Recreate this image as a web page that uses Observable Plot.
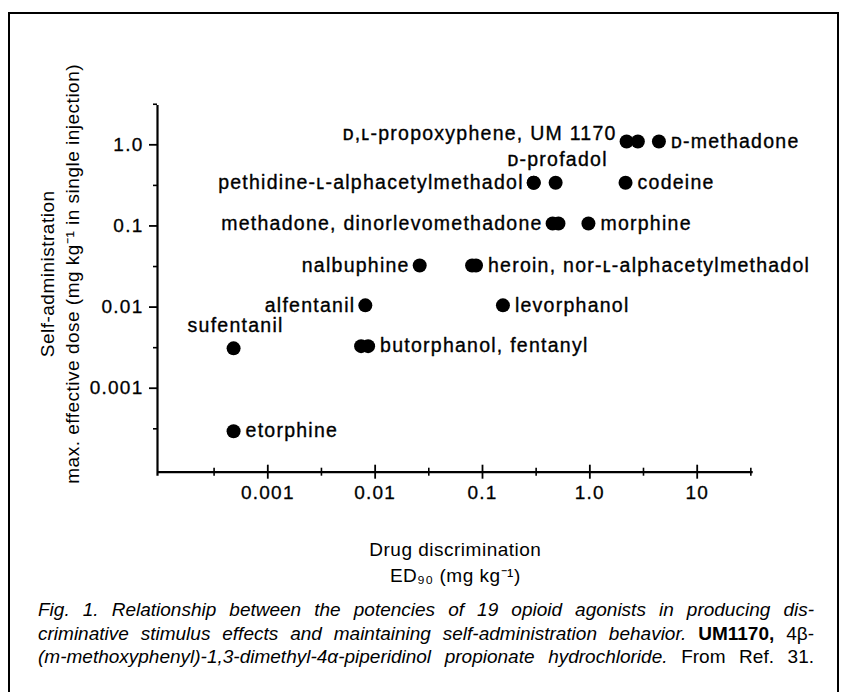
<!DOCTYPE html>
<html><head><meta charset="utf-8">
<script src="https://cdn.jsdelivr.net/npm/d3@7"></script>
<script src="https://cdn.jsdelivr.net/npm/@observablehq/plot@0.6"></script>
<style>
html,body{margin:0;padding:0;background:#fff;}
#wrap{position:relative;width:841px;height:692px;overflow:hidden;background:#fff;}
#border{position:absolute;left:8px;top:12px;width:831px;height:700px;border:2px solid #000;border-bottom:none;box-sizing:border-box;}
#chart{position:absolute;left:0;top:0;}
#chart svg text{letter-spacing:1.25px;}
#caption{position:absolute;left:38px;top:598px;width:776px;font-family:"Liberation Sans Narrow","Arial Narrow","Liberation Sans",Arial,sans-serif;font-style:italic;font-size:19px;line-height:23.5px;color:#000;}
#caption div{text-align:justify;text-align-last:justify;white-space:nowrap;}
#caption .b{font-weight:bold;font-style:normal;}
#caption .n{font-style:normal;}
</style></head>
<body>
<div id="wrap">
  <div id="border"></div>
  <div id="chart"></div>
  <div id="caption">
    <div>Fig. 1. Relationship between the potencies of 19 opioid agonists in producing dis-</div>
    <div>criminative stimulus effects and maintaining self-administration behavior. <span class="b">UM1170,</span> <span class="n">4β-</span></div>
    <div>(m-methoxyphenyl)-1,3-dimethyl-4α-piperidinol propionate hydrochloride. <span class="n">From Ref. 31.</span></div>
  </div>
</div>
<script>
// ---- data ----
const drugs = ["D,L-propoxyphene","UM 1170","D-methadone","pethidine","L-alphacetylmethadol","D-profadol","codeine","methadone","dinorlevomethadone","morphine","nalbuphine","heroin","nor-L-alphacetylmethadol","alfentanil","levorphanol","sufentanil","butorphanol","fentanyl","etorphine"];
const discriminationED90 = [2.2, 2.8, 4.4, 0.30, 0.30, 0.48, 2.15, 0.45, 0.51, 0.97, 0.026, 0.080, 0.087, 0.0081, 0.155, 0.00048, 0.0074, 0.0086, 0.00048];
const selfAdminDose = [1.1, 1.1, 1.1, 0.34, 0.34, 0.34, 0.34, 0.107, 0.107, 0.107, 0.0325, 0.0325, 0.0325, 0.0105, 0.0105, 0.0031, 0.0033, 0.0033, 0.000295];

const labelTexts = ["ᴅ,ʟ-propoxyphene, UM 1170","ᴅ-methadone","ᴅ-profadol","pethidine-ʟ-alphacetylmethadol","codeine","methadone, dinorlevomethadone","morphine","nalbuphine","heroin, nor-ʟ-alphacetylmethadol","alfentanil","levorphanol","sufentanil","butorphanol, fentanyl","etorphine"];
const labelDrug = ["D,L-propoxyphene","D-methadone","D-profadol","pethidine","codeine","methadone","morphine","nalbuphine","nor-L-alphacetylmethadol","alfentanil","levorphanol","sufentanil","fentanyl","etorphine"];
const labelSide = ["upper-left","right","above","left","right","left","right","left","right","left","right","above","right","right"];

const xMajorTicks = [0.001, 0.01, 0.1, 1, 10];
const xTickLabels = ["0.001","0.01","0.1","1.0","10"];
const xMinorTicks = [0.000316, 0.00316, 0.0316, 0.316, 3.16, 31.6];
const yMajorTicks = [1, 0.1, 0.01, 0.001];
const yTickLabels = ["1.0","0.1","0.01","0.001"];
const yMinorTicks = [3.16, 0.316, 0.0316, 0.00316, 0.000316];

const xTitle = ["Drug discrimination", "ED₉₀ (mg kg⁻¹)"];
const yTitle = ["Self-administration", "max. effective dose (mg kg⁻¹ in single injection)"];

// ---- layout ----
const W = 841, H = 600;
const mL = 157, mR = 88.3, mT = 105, mB = 128.3;
const innerW = W - mL - mR, innerH = H - mT - mB;
const xDomain = [10 ** -4.0275, 10 ** 1.5217];
const yDomain = [10 ** -4.035, 10 ** 0.4844];

const points = drugs.map((name, i) => ({name, x: discriminationED90[i], y: selfAdminDose[i]}));
const labelRows = labelTexts.map((text, i) => {
  const p = points.find(d => d.name === labelDrug[i]);
  return {text, x: p.x, y: p.y, side: labelSide[i]};
});
const sideStyle = {
  left: {textAnchor: "end", dx: -10, dy: 0},
  right: {textAnchor: "start", dx: 12, dy: 0},
  above: {textAnchor: "middle", dx: 2, dy: -23},
  "upper-left": {textAnchor: "end", dx: -10, dy: -8}
};

const font = 19.5;
const ink = {fill: "black", stroke: "black", strokeWidth: 0.35};
const labelMarks = labelRows.map(l => Plot.text([l], {
  x: "x", y: "y", text: "text", fontSize: font, ...ink, ...sideStyle[l.side]
}));

const chart = Plot.plot({
  width: W, height: H,
  marginLeft: mL, marginRight: mR, marginTop: mT, marginBottom: mB,
  x: {type: "log", domain: xDomain, axis: null},
  y: {type: "log", domain: yDomain, axis: null},
  style: {fontFamily: '"Liberation Sans", Arial, Helvetica, sans-serif', fontSize: "19px", background: "transparent", color: "black"},
  marks: [
    Plot.ruleY([yDomain[0]], {stroke: "black", strokeWidth: 2.2}),
    Plot.ruleX([xDomain[0]], {stroke: "black", strokeWidth: 2.2, insetBottom: -4}),
    Plot.ruleX(xMajorTicks, {x: d => d, insetTop: innerH - 7, insetBottom: -7, stroke: "black", strokeWidth: 1.8}),
    Plot.ruleX(xMinorTicks, {x: d => d, insetTop: innerH - 4, insetBottom: -4, stroke: "black", strokeWidth: 1.6}),
    Plot.ruleY(yMajorTicks, {y: d => d, insetLeft: -8, insetRight: innerW, stroke: "black", strokeWidth: 1.8}),
    Plot.ruleY(yMinorTicks, {y: d => d, insetLeft: -4, insetRight: innerW, stroke: "black", strokeWidth: 1.6}),
    Plot.text(xMajorTicks, {x: d => d, text: (d, i) => xTickLabels[i], frameAnchor: "bottom", dy: 27, fontSize: 19, ...ink, strokeWidth: 0.3}),
    Plot.text(yMajorTicks, {y: d => d, text: (d, i) => yTickLabels[i], frameAnchor: "left", textAnchor: "end", dx: -14, fontSize: 19, ...ink, strokeWidth: 0.3}),
    Plot.text([xTitle[0]], {text: d => d, frameAnchor: "bottom", textAnchor: "middle", dy: 84, fontSize: 19, fill: "black"}),
    Plot.text([xTitle[1]], {text: d => d, frameAnchor: "bottom", textAnchor: "middle", dy: 110, fontSize: 19, fill: "black"}),
    Plot.text([yTitle[0]], {text: d => d, frameAnchor: "left", textAnchor: "middle", rotate: -90, dx: -110, dy: -15, fontSize: 19, fill: "black"}),
    Plot.text([yTitle[1]], {text: d => d, frameAnchor: "left", textAnchor: "middle", rotate: -90, dx: -85, dy: -15, fontSize: 19, fill: "black"}),
    Plot.dot(points, {x: "x", y: "y", r: 7, fill: "black"}),
    ...labelMarks
  ]
});
// axis titles use tighter tracking than the point labels
d3.select(chart).selectAll("text")
  .filter(function() { return yTitle.includes(this.textContent) || xTitle.includes(this.textContent); })
  .style("letter-spacing", "0.5px");
document.getElementById("chart").appendChild(chart);
</script>
</body></html>
